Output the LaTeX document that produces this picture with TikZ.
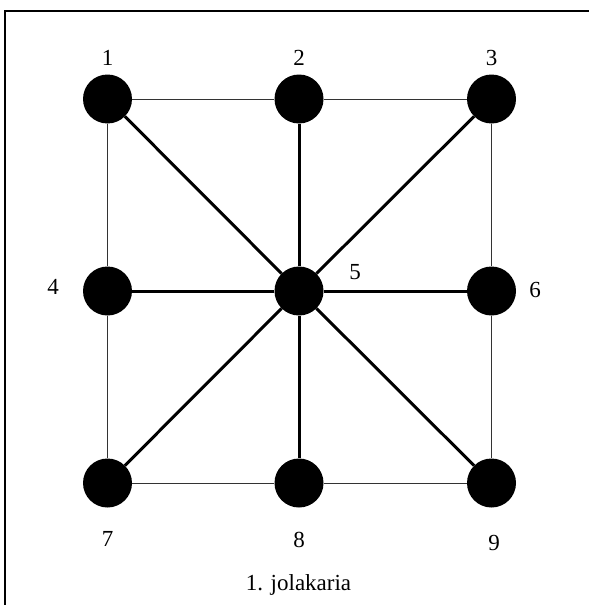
\documentclass[tikz,border=0pt]{standalone}
\usepackage{fontspec}
\setmainfont{Liberation Serif}
\begin{document}
\begin{tikzpicture}[x=1pt,y=-1pt,
  dot/.style={circle,fill=black,inner sep=0pt,minimum size=49pt},
  thinline/.style={line width=1pt,black!80},
  thickline/.style={line width=3pt,black},
  lbl/.style={font=\fontsize{23}{26}\selectfont,inner sep=0pt}]
\useasboundingbox (0,0) rectangle (589,605);
\fill[white] (0,0) rectangle (589,605);
\draw[line width=2pt] (5,605) -- (5,11) -- (589,11);
\node[dot] (n1) at (107.5,99) {};
\node[dot] (n2) at (299,99) {};
\node[dot] (n3) at (491.5,99) {};
\node[dot] (n4) at (107.5,291) {};
\node[dot] (n5) at (299,291) {};
\node[dot] (n6) at (491.5,291) {};
\node[dot] (n7) at (107.5,483) {};
\node[dot] (n8) at (299,483) {};
\node[dot] (n9) at (491.5,483) {};
\begin{scope}[on background layer/.style={}]
\end{scope}
\draw[thinline] (n1) -- (n2);
\draw[thinline] (n2) -- (n3);
\draw[thinline] (n3) -- (n6);
\draw[thinline] (n6) -- (n9);
\draw[thinline] (n9) -- (n8);
\draw[thinline] (n8) -- (n7);
\draw[thinline] (n7) -- (n4);
\draw[thinline] (n4) -- (n1);
\foreach \n in {n1,n2,n3,n4,n6,n7,n8,n9} \draw[thickline] (n5) -- (\n);
\node[lbl] (l1) at (107.5,58) {1};
\node[lbl] (l2) at (299,58) {2};
\node[lbl] (l3) at (491.5,58) {3};
\node[lbl] (l4) at (53,287) {4};
\node[lbl] (l5) at (355,272) {5};
\node[lbl] (l6) at (535,290) {6};
\node[lbl] (l7) at (107.5,539) {7};
\node[lbl] (l8) at (299,540) {8};
\node[lbl] (l9) at (494,543) {9};
\node[lbl,anchor=base] (cap) at (298.5,590) {1. jolakaria};
\end{tikzpicture}
\end{document}
